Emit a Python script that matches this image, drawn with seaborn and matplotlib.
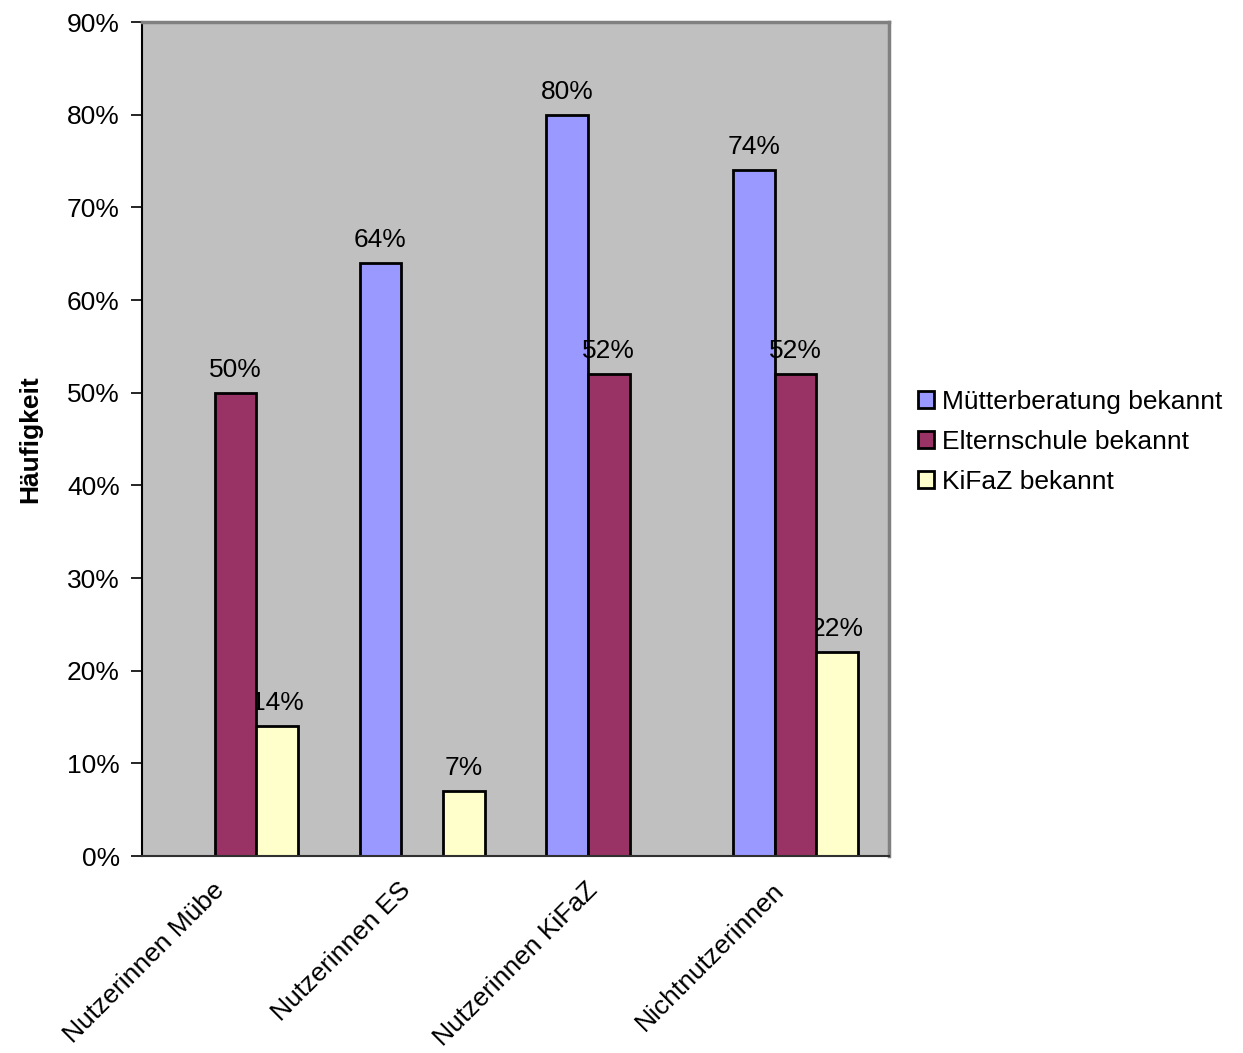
import numpy as np
import pandas as pd
import seaborn as sns
from matplotlib import pyplot as plt, ticker, transforms

categories = ["Nutzerinnen Mübe", "Nutzerinnen ES", "Nutzerinnen KiFaZ", "Nichtnutzerinnen"]
series = ["Mütterberatung bekannt", "Elternschule bekannt", "KiFaZ bekannt"]
muetter = [np.nan, 64, 80, 74]
eltern = [50, np.nan, 52, 52]
kifaz = [14, 7, np.nan, 22]
colors = ["#9999FF", "#993366", "#FFFFCC"]

sns.set_style("white")
plt.rcParams['font.family'] = ['Liberation Sans', 'DejaVu Sans']
plt.rcParams['text.color'] = "black"
plt.rcParams['axes.labelcolor'] = "black"
plt.rcParams['xtick.color'] = "black"
plt.rcParams['ytick.color'] = "black"

rows = []
for name, vals in zip(series, [muetter, eltern, kifaz]):
    for cat, v in zip(categories, vals):
        rows.append({"Gruppe": cat, "Serie": name, "Wert": v})
df = pd.DataFrame(rows)

fig = plt.figure(figsize=(12.43, 10.53), dpi=100)
ax = fig.add_axes([142 / 1243, 1 - 856 / 1053, 747 / 1243, 834 / 1053])
ax.set_facecolor("#C0C0C0")

sns.barplot(df, x="Gruppe", y="Wert", hue="Serie", order=categories, hue_order=series,
            palette=colors, width=0.67, edgecolor="black", linewidth=2, saturation=1,
            errorbar=None, ax=ax, zorder=2)

# labels, the KiFaZ ones sit under neighbouring bars like in the original
for i, cont in enumerate(ax.containers):
    labels = ["" if np.isnan(v) else "{:.0f}%".format(v) for v in cont.datavalues]
    texts = ax.bar_label(cont, labels=labels, padding=8, fontsize=19, color="black")
    for t in texts:
        t.set_zorder(1.5 if i == 2 else 3)

ax.set_ylim(0, 90)
ax.set_xlim(-0.5, 3.5)
ax.yaxis.set_major_locator(ticker.MultipleLocator(10))
ax.yaxis.set_major_formatter(ticker.FuncFormatter(lambda v, p: "{:.0f}%".format(v)))
ax.set_xticks(range(len(categories)))
ax.set_xticklabels(categories, rotation=45, ha="right", va="center", rotation_mode="anchor")
ax.set_xticks(np.arange(-0.5, 4, 1), minor=True)
ax.tick_params(axis="x", which="major", length=0, pad=22, labelsize=19)
ax.tick_params(axis="x", which="minor", length=8, width=1.2, direction="out")
ax.tick_params(axis="y", length=8, width=1.2, direction="out", left=True,
               labelsize=19, pad=8)

# shift category labels a bit to the left
shift = transforms.ScaledTranslation(-15 / 100, 0, fig.dpi_scale_trans)
for lab in ax.get_xticklabels():
    lab.set_transform(lab.get_transform() + shift)

ax.set_xlabel("")
ax.set_ylabel("Häufigkeit", fontsize=19, fontweight="bold", labelpad=18)

for side in ["top", "right"]:
    ax.spines[side].set_color("#808080")
    ax.spines[side].set_linewidth(2.5)
ax.spines["left"].set_color("black")
ax.spines["left"].set_linewidth(1.5)
ax.spines["bottom"].set_color("#303030")
ax.spines["bottom"].set_linewidth(1.5)

handles, labs = ax.get_legend_handles_labels()
ax.legend(handles, labs, loc="center left", bbox_to_anchor=(918 / 1243, 1 - 442 / 1053),
          bbox_transform=fig.transFigure, frameon=False, fontsize=19,
          handlelength=0.6, handleheight=0.6, handletextpad=0.3, labelspacing=0.6,
          borderpad=0, borderaxespad=0)

plt.savefig("out.png", dpi=100)
